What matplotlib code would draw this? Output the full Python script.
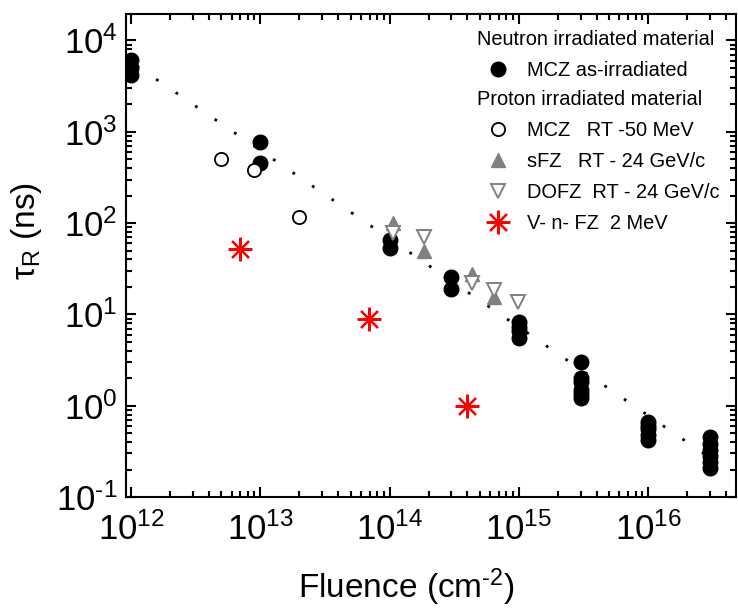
import numpy as np
import matplotlib
matplotlib.use("Agg")
import matplotlib.pyplot as plt
from matplotlib.ticker import LogLocator, NullFormatter, FuncFormatter

plt.rcParams['font.family'] = ['Liberation Sans', 'DejaVu Sans']
plt.rcParams['mathtext.fontset'] = 'custom'
plt.rcParams['mathtext.rm'] = 'Liberation Sans'
plt.rcParams['mathtext.it'] = 'Liberation Sans:italic'
plt.rcParams['axes.unicode_minus'] = False

# ---- data ----
# Neutron irradiated MCZ (filled black circles)
n_mcz_x = [1e12]*3 + [1e13]*2 + [1e14]*2 + [3e14]*2 + [1e15]*4 + [3e15]*6 + [1e16]*5 + [3e16]*6
n_mcz_y = [4200, 5000, 6100,
           460, 780,
           53, 65,
           19, 26,
           5.5, 6.5, 7.3, 8.2,
           1.2, 1.35, 1.5, 1.8, 2.0, 3.0,
           0.42, 0.48, 0.55, 0.6, 0.67,
           0.21, 0.24, 0.28, 0.33, 0.38, 0.45]

# Proton MCZ RT - 50 MeV (open circles)
p_mcz_x = [5e12, 9e12, 2e13]
p_mcz_y = [505, 383, 116]

# sFZ RT - 24 GeV/c (gray up triangles)
sfz_x = [1.07e14, 1.85e14, 4.3e14, 6.4e14]
sfz_y = [100, 49, 27.5, 15.5]

# DOFZ RT - 24 GeV/c (open down triangles)
dofz_x = [1.07e14, 1.85e14, 4.3e14, 6.4e14, 9.8e14]
dofz_y = [77, 70, 22, 18.5, 13.6]

# V-n-FZ 2 MeV (red asterisks)
vnfz_x = [6.9e12, 6.9e13, 4.0e14]
vnfz_y = [52, 8.8, 1.0]

# fit line endpoints
fit_x = [1e12, 3e16]
fit_y = [5800, 0.27]

legend_title1 = 'Neutron irradiated material'
legend_labels1 = ['MCZ as-irradiated']
legend_title2 = 'Proton irradiated material'
legend_labels2 = ['MCZ   RT -50 MeV', 'sFZ   RT - 24 GeV/c', 'DOFZ  RT - 24 GeV/c', 'V- n- FZ  2 MeV']

fig = plt.figure(figsize=(7.38, 6.09), dpi=100)
ax = fig.add_axes([0.1707, 0.1839, 0.8266, 0.7931])

ax.plot(fit_x, fit_y, color='black', lw=2, linestyle=(6.1, (1, 7.5)), zorder=1)

h1, = ax.plot(n_mcz_x, n_mcz_y, 'o', ms=10.5, mfc='black', mec='black', zorder=3)
h2, = ax.plot(p_mcz_x, p_mcz_y, 'o', ms=9.5, mfc='white', mec='black', mew=1.3, zorder=3)
h3, = ax.plot(sfz_x, sfz_y, '^', ms=10, mfc='#808080', mec='#808080', zorder=4)
h4, = ax.plot(dofz_x, dofz_y, 'v', ms=10, mfc='white', mec='#808080', mew=1.4, zorder=5)
h5, = ax.plot(vnfz_x, vnfz_y, marker=(8, 2, 0), ls='none', ms=17, mec='red', mew=1.6, zorder=6)

ax.set_xscale('log')
ax.set_yscale('log')
ax.set_xlim(10**11.96, 10**16.68)
ax.set_ylim(10**-1.0, 10**4.29)


def pow10(v, pos):
    e = int(round(np.log10(v)))
    s = str(e).replace('-', '\u2010')
    return '$\\mathregular{10^{%s}}$' % s


for axis in (ax.xaxis, ax.yaxis):
    axis.set_major_locator(LogLocator(base=10, numticks=20))
    axis.set_minor_locator(LogLocator(base=10, subs=np.arange(2, 10), numticks=20))
    axis.set_minor_formatter(NullFormatter())
    axis.set_major_formatter(FuncFormatter(pow10))

ax.tick_params(which='both', direction='in', top=True, right=True, width=1.5)
ax.tick_params(which='major', length=7)
ax.tick_params(which='minor', length=4)
ax.tick_params(axis='x', which='major', labelsize=25, pad=11)
ax.tick_params(axis='y', which='major', labelsize=25, pad=6)
for s in ax.spines.values():
    s.set_linewidth(1.5)

ax.set_xlabel('Fluence (cm$^{\\mathregular{\u20102}}$)', fontsize=24)
ax.set_ylabel('τ$_{\\mathregular{R}}$ (ns)', fontsize=24)
ax.xaxis.set_label_coords(0.46, -0.143)
ax.yaxis.set_label_coords(-0.134, 0.55)

fs = 14.4
common = dict(title_fontsize=fs, fontsize=fs, frameon=False, alignment='left',
              loc='upper left', bbox_transform=fig.transFigure, borderpad=0,
              borderaxespad=0, handlelength=2.05, handletextpad=0.45, labelspacing=0.6)
leg1 = ax.legend([h1], legend_labels1, title=legend_title1,
                 bbox_to_anchor=(477/738, 1 - 30/609), **common)
ax.add_artist(leg1)
ax.legend([h2, h3, h4, h5], legend_labels2, title=legend_title2,
          bbox_to_anchor=(477/738, 1 - 90/609), **common)

fig.savefig('out.png', dpi=100)
